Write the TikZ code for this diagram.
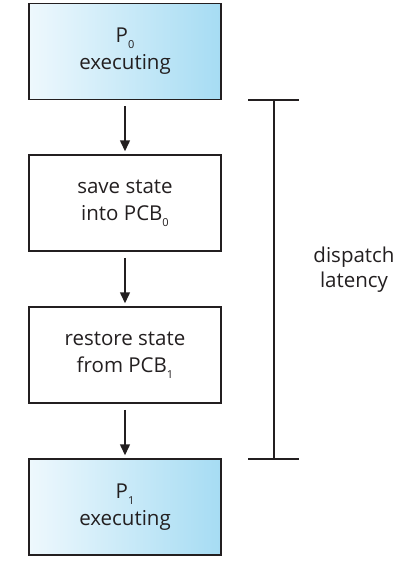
\documentclass[tikz,border=0pt]{standalone}
\usepackage{fontspec}
\setmainfont{Open Sans}
\usetikzlibrary{arrows.meta}
\definecolor{txt}{HTML}{231F20}
\definecolor{gl}{HTML}{EEF8FD}
\definecolor{gr}{HTML}{A6DCF3}
\newcommand{\sbs}[1]{\raisebox{-0.55ex}{\fontsize{11}{12}\selectfont #1}}
\tikzset{
  stepbox/.style={draw=txt, line width=1.5pt, minimum width=192pt, minimum height=96pt,
    align=center, text=txt, font=\fontsize{20.5}{27}\selectfont, inner sep=0pt},
  procbox/.style={stepbox, left color=gl, right color=gr},
  flow/.style={draw=txt, line width=1.5pt, -{Triangle[length=11pt,width=10pt]}},
  brk/.style={draw=txt, line width=1.5pt}
}
\begin{document}
\begin{tikzpicture}[x=1pt,y=-1pt]
\useasboundingbox (0,0) rectangle (412,562);
\node[procbox] (p0) at (125,51.5) {P\sbs{0}\\executing};
\node[stepbox] (save) at (125,203) {save state\\into PCB\sbs{0}};
\node[stepbox] (rest) at (125,355) {restore state\\from PCB\sbs{1}};
\node[procbox] (p1) at (125,507) {P\sbs{1}\\executing};
\draw[flow] ([yshift=-6pt]p0.south) -- ([yshift=3pt]save.north);
\draw[flow] ([yshift=-6pt]save.south) -- ([yshift=3pt]rest.north);
\draw[flow] ([yshift=-6pt]rest.south) -- ([yshift=3pt]p1.north);
\coordinate (bt) at (274,100);
\coordinate (bb) at (274,459);
\draw[brk] ([xshift=-26pt]bt) -- ([xshift=25pt]bt);
\draw[brk] ([xshift=-26pt]bb) -- ([xshift=25pt]bb);
\draw[brk] (bt) -- (bb);
\node[text=txt, font=\fontsize{20.5}{25}\selectfont, align=center] (lab) at (354,270) {dispatch\\latency};
\end{tikzpicture}
\end{document}
